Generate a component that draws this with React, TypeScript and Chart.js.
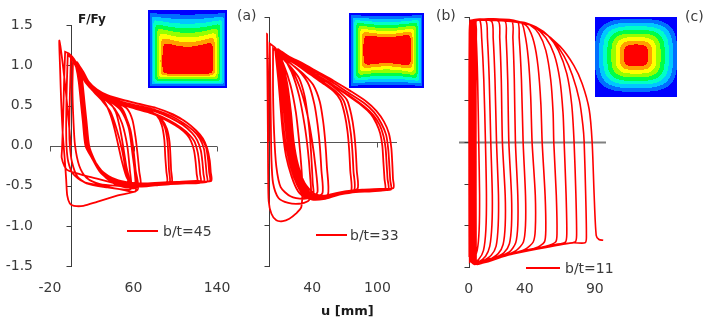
import React, { useEffect, useRef } from "react";
import { Chart, registerables } from "chart.js";

Chart.register(...registerables);

const FONT = '"DejaVu Sans", sans-serif';
const TEXT = "#3a3a3a";
const RED = "#ff0000";

// ---- tick values / labels ----
const yTickValues = [-1.5, -1, -0.5, 0, 0.5, 1, 1.5];
const xTicksA = [-20, 60, 140];
const xTicksB = [40, 100];
const xTicksC = [0, 40, 90];
const seriesLabels = ["b/t=45", "b/t=33", "b/t=11"];
const panelTags = ["(a)", "(b)", "(c)"];
const yTitle = "F/Fy";
const xTitle = "u [mm]";

const bt45Loops: number[][] = [
  [0, 0, -5, 0.7, -11, 1.31, -10.3, 0.95, -9.3, 0.55, -7.8, 0.15, -6, -0.15, -4.5, -0.42, -3.5, -0.62, -1, -0.72, 3, -0.75, 12, -0.75, 25, -0.7, 45, -0.62, 64, -0.55, 62, -0.3, 60, -0.05, 57, 0.2, 50, 0.42, 40, 0.54, 30, 0.61, 20, 0.73, 13, 0.85, 8, 0.96, 3, 1.08, -2, 1.15, -5.5, 1.17],
  [-5.5, 1.17, -6.5, 0.8, -7.5, 0.3, -8.5, -0.05, -8.8, -0.15, -6, -0.26, -2.5, -0.31, 10, -0.36, 25, -0.41, 45, -0.48, 61, -0.53, 61, -0.3, 59.5, 0, 56, 0.22, 50, 0.42, 40, 0.54, 30, 0.62, 20, 0.74, 13, 0.86, 6, 1.0, 0, 1.1, -3, 1.13],
  [-3, 1.13, -4, 0.7, -4.5, 0.3, -4.2, 0, -2.5, -0.2, 2, -0.35, 12, -0.45, 30, -0.5, 50, -0.55, 62, -0.57, 61, -0.3, 58.5, 0, 55, 0.24, 48, 0.44, 38, 0.55, 28, 0.63, 18, 0.75, 11, 0.88, 4, 1.03, 0, 1.08],
  [0, 1.08, -1, 0.6, -1.5, 0.2, -1, 0, 1, -0.2, 6, -0.38, 15, -0.47, 35, -0.52, 55, -0.55, 58, -0.53, 56.5, -0.3, 54, 0, 49, 0.28, 42, 0.46, 33, 0.57, 22, 0.68, 14, 0.81, 7, 0.96, 2, 1.05],
  [2, 1.05, 1.5, 0.7, 2.5, 0.3, 4, 0, 8, -0.25, 15, -0.4, 28, -0.48, 45, -0.5, 55, -0.5, 52.5, -0.3, 49, -0.05, 44, 0.2, 38, 0.42, 30, 0.56, 22, 0.67, 15, 0.79, 8, 0.94, 4, 1.02],
  [3.5, 1.04, 8.5, 0.93, 13.5, 0.81, 20, 0.7, 27, 0.62, 33, 0.53, 38, 0.38, 42, 0.2, 45.5, 0, 49, -0.2, 53, -0.38, 57, -0.5, 46, -0.5, 37, -0.43, 27.5, -0.32, 20, -0.15, 14.5, 0, 12, 0.3, 10, 0.55, 8, 0.8, 5.5, 0.98, 3.5, 1.04],
  [3, 1.04, 8, 0.93, 13, 0.81, 20, 0.7, 28, 0.62, 37, 0.54, 43, 0.42, 47, 0.22, 50, 0, 53, -0.25, 56, -0.47, 47, -0.48, 38, -0.42, 28, -0.32, 20, -0.15, 14, 0, 11.5, 0.3, 9.5, 0.55, 7.5, 0.8, 5, 0.98, 3, 1.04],
  [4, 1.04, 9, 0.93, 14, 0.81, 21, 0.7, 30, 0.62, 40, 0.55, 48, 0.48, 53, 0.35, 56.5, 0.15, 59, -0.1, 61, -0.3, 62.5, -0.5, 50, -0.5, 38, -0.43, 28, -0.32, 20.5, -0.15, 15, 0, 12.5, 0.3, 10.5, 0.55, 8.5, 0.8, 6, 0.98, 4, 1.04],
  [5, 1.03, 10, 0.92, 15, 0.8, 22, 0.69, 32, 0.61, 45, 0.53, 54, 0.46, 59, 0.32, 62, 0.1, 64, -0.12, 65.5, -0.32, 66.5, -0.5, 52, -0.52, 40, -0.46, 29, -0.34, 21, -0.16, 16, 0, 13.5, 0.3, 11.5, 0.55, 9.5, 0.8, 7, 0.98, 5, 1.03],
  [6, 1.04, 11, 0.93, 16, 0.81, 24, 0.7, 34, 0.62, 48, 0.55, 62, 0.49, 74, 0.44, 82, 0.38, 87, 0.26, 89.5, 0.08, 90.5, -0.15, 91.5, -0.32, 92, -0.46, 80, -0.47, 65, -0.49, 50, -0.47, 38, -0.42, 28, -0.31, 21.5, -0.15, 17, 0, 14.5, 0.3, 12.5, 0.55, 10.5, 0.8, 8, 0.98, 6, 1.04],
  [4.5, 1.03, 10, 0.91, 15, 0.79, 23, 0.68, 33, 0.6, 47, 0.53, 63, 0.47, 76, 0.42, 85, 0.35, 90, 0.23, 92.5, 0.06, 93.5, -0.15, 94, -0.3, 94.5, -0.47, 82, -0.48, 67, -0.5, 52, -0.48, 39, -0.43, 29, -0.32, 21, -0.15, 15.5, 0, 13, 0.3, 11, 0.55, 9, 0.8, 6.5, 0.98, 4.5, 1.03],
  [5.5, 1.02, 11, 0.9, 16, 0.78, 24, 0.67, 35, 0.59, 50, 0.52, 65, 0.46, 78, 0.41, 87, 0.33, 92, 0.21, 94.5, 0.05, 95.5, -0.15, 96, -0.3, 96.5, -0.47, 84, -0.49, 68, -0.51, 54, -0.49, 41, -0.44, 30, -0.33, 21.5, -0.16, 16.5, 0, 14, 0.3, 12, 0.55, 10, 0.8, 7.5, 0.98, 5.5, 1.02],
  [3.5, 1.03, 9, 0.91, 14, 0.79, 22, 0.68, 32, 0.6, 46, 0.52, 62, 0.46, 78, 0.4, 94, 0.3, 104, 0.22, 111, 0.14, 115, 0.06, 118, -0.06, 119.5, -0.2, 120.5, -0.35, 121, -0.45, 110, -0.45, 95, -0.46, 80, -0.47, 65, -0.48, 52, -0.46, 39, -0.41, 28, -0.31, 20, -0.15, 14.5, 0, 12, 0.3, 10, 0.55, 8, 0.8, 5.5, 0.98, 3.5, 1.03],
  [6.5, 1.02, 12, 0.9, 17, 0.78, 25, 0.67, 35, 0.59, 50, 0.52, 64, 0.46, 80, 0.4, 95, 0.31, 106, 0.22, 114, 0.13, 118.5, 0.05, 121.5, -0.08, 123, -0.22, 123.8, -0.35, 124.3, -0.46, 110, -0.47, 95, -0.48, 80, -0.49, 64, -0.5, 51, -0.47, 39, -0.42, 29, -0.32, 22, -0.16, 17.5, 0, 15, 0.3, 13, 0.55, 11, 0.8, 8.5, 0.98, 6.5, 1.02],
  [5, 1.03, 11, 0.92, 16, 0.8, 24, 0.69, 34, 0.61, 49, 0.54, 65, 0.48, 80, 0.43, 95, 0.35, 107, 0.26, 116, 0.16, 121, 0.07, 124.5, -0.06, 126, -0.2, 127, -0.35, 127.5, -0.45, 112, -0.46, 96, -0.47, 80, -0.48, 64, -0.49, 51, -0.47, 39, -0.42, 29, -0.32, 21, -0.16, 16, 0, 13.5, 0.3, 11.5, 0.55, 9.5, 0.8, 7, 0.98, 5, 1.03],
  [4, 1.03, 10, 0.91, 15, 0.8, 23, 0.69, 33, 0.62, 48, 0.55, 64, 0.5, 80, 0.45, 96, 0.37, 108, 0.28, 117, 0.19, 123.5, 0.09, 127.5, -0.04, 129, -0.2, 130, -0.35, 130.5, -0.45, 115, -0.46, 98, -0.47, 82, -0.48, 66, -0.49, 52, -0.47, 40, -0.42, 29, -0.32, 20.5, -0.15, 15, 0, 12.5, 0.3, 10.5, 0.55, 8.5, 0.8, 6, 0.98, 4, 1.03],
  [6, 1.03, 12, 0.92, 17, 0.8, 25, 0.7, 35, 0.63, 50, 0.57, 66, 0.52, 82, 0.47, 97, 0.39, 110, 0.3, 119, 0.2, 125, 0.1, 129.5, -0.02, 131.5, -0.18, 132.5, -0.33, 133, -0.44, 118, -0.45, 100, -0.46, 84, -0.47, 68, -0.48, 54, -0.46, 41, -0.42, 30, -0.33, 21.5, -0.16, 17, 0, 14.5, 0.3, 12.5, 0.55, 10.5, 0.8, 8, 0.98, 6, 1.03],
  [5, 1.03, 11, 0.91, 16, 0.8, 24, 0.7, 34, 0.63, 49, 0.57, 65, 0.52, 82, 0.47, 98, 0.39, 111, 0.29, 120, 0.19, 126.5, 0.09, 130.5, -0.03, 133, -0.18, 134, -0.33, 134.5, -0.44, 120, -0.44, 102, -0.45, 85, -0.46, 70, -0.47, 56, -0.46, 43, -0.42, 31, -0.33, 22, -0.17, 16, 0, 13.5, 0.3, 11.5, 0.55, 9.5, 0.8, 7, 0.98, 5, 1.03],
];

const bt33Loops: number[][] = [
  [0, 0, -0.5, 0.8, -1.5, 1.3, -1.2, 0.8, -0.8, 0.2, -0.5, -0.4, 0, -0.72, 2.5, -0.87, 7, -0.95, 13, -0.96, 19, -0.93, 25, -0.87, 30, -0.79, 31, -0.55, 30, -0.3, 28, 0, 25, 0.35, 20, 0.68, 13, 0.95, 6, 1.13, 1, 1.18],
  [1, 1.18, 1.5, 0.7, 2, 0.2, 2.5, -0.2, 4, -0.5, 9, -0.68, 18, -0.74, 28, -0.75, 36, -0.72, 39, -0.66, 38, -0.4, 36, -0.1, 33, 0.2, 28, 0.55, 21, 0.84, 13, 1.02, 4, 1.12],
  [4, 1.12, 4, 0.6, 5, 0.1, 7, -0.3, 11, -0.55, 20, -0.66, 32, -0.69, 42, -0.66, 45, -0.6, 43, -0.3, 40, 0, 36, 0.3, 30, 0.6, 22, 0.85, 12, 1.03, 6, 1.1],
  [6, 1.1, 13, 1.0, 20, 0.9, 28, 0.76, 33, 0.55, 36, 0.3, 38, 0.05, 39.5, -0.25, 40.5, -0.5, 41, -0.65, 34, -0.68, 27, -0.6, 21, -0.42, 16, -0.18, 13, 0.1, 11, 0.4, 9, 0.72, 6, 1.1],
  [6, 1.1, 14, 1.0, 22, 0.92, 30, 0.82, 37, 0.68, 42, 0.45, 45, 0.2, 47, -0.05, 48.5, -0.35, 49.5, -0.62, 42, -0.68, 33, -0.66, 26, -0.52, 20, -0.3, 16, -0.05, 13, 0.25, 11, 0.55, 9, 0.85, 6, 1.1],
  [7, 1.09, 15, 0.99, 24, 0.9, 33, 0.8, 41, 0.68, 47, 0.48, 50, 0.25, 52, 0, 53.5, -0.3, 54.5, -0.64, 45, -0.69, 36, -0.67, 28, -0.55, 22, -0.34, 18, -0.08, 15, 0.22, 12.5, 0.55, 10, 0.85, 7, 1.09],
  [7, 1.1, 15, 1.01, 25, 0.93, 38, 0.81, 50, 0.7, 60, 0.6, 66, 0.5, 70, 0.32, 72.5, 0.12, 74, -0.1, 75, -0.35, 75.8, -0.6, 65, -0.64, 52, -0.69, 40, -0.7, 31, -0.62, 25, -0.45, 20.5, -0.2, 17, 0.08, 14.5, 0.4, 12, 0.72, 7, 1.1],
  [8, 1.09, 16, 1.0, 26, 0.93, 40, 0.8, 52, 0.7, 62, 0.6, 69, 0.49, 73, 0.3, 75.5, 0.1, 77, -0.12, 78, -0.36, 78.7, -0.58, 67, -0.62, 54, -0.67, 42, -0.69, 33, -0.62, 26.5, -0.45, 22, -0.2, 18.5, 0.08, 16, 0.4, 13, 0.72, 8, 1.09],
  [8, 1.1, 16, 1.01, 27, 0.94, 41, 0.81, 54, 0.71, 64, 0.61, 72, 0.5, 76, 0.32, 78.5, 0.12, 80, -0.1, 81, -0.35, 81.7, -0.57, 70, -0.6, 56, -0.64, 44, -0.67, 35, -0.62, 28, -0.46, 23, -0.22, 19.5, 0.06, 17, 0.4, 14, 0.72, 8, 1.1],
  [8, 1.11, 17, 1.02, 27, 0.95, 42, 0.82, 56, 0.71, 70, 0.58, 85, 0.44, 94, 0.33, 99, 0.22, 102.5, 0.1, 104.5, -0.05, 105.5, -0.25, 106.5, -0.45, 107, -0.58, 95, -0.6, 80, -0.61, 65, -0.64, 50, -0.68, 38, -0.66, 30, -0.52, 24.5, -0.3, 20.5, -0.02, 18, 0.33, 15, 0.68, 8, 1.11],
  [9, 1.1, 18, 1.01, 28, 0.94, 43, 0.81, 57, 0.7, 72, 0.57, 87, 0.43, 96, 0.32, 102, 0.2, 105.5, 0.07, 107.5, -0.08, 108.5, -0.28, 109.3, -0.45, 110, -0.58, 97, -0.59, 82, -0.6, 66, -0.63, 51, -0.66, 39, -0.64, 31, -0.5, 25.5, -0.28, 21.5, 0, 19, 0.35, 16, 0.7, 9, 1.1],
  [9, 1.11, 18, 1.02, 29, 0.95, 44, 0.83, 58, 0.72, 73, 0.59, 88, 0.46, 97, 0.35, 103.5, 0.22, 108, 0.08, 110, -0.1, 111, -0.3, 111.8, -0.47, 112.5, -0.58, 100, -0.58, 84, -0.59, 68, -0.62, 52, -0.66, 40, -0.64, 32, -0.5, 26, -0.27, 22, 0.02, 19.5, 0.36, 16.5, 0.7, 9, 1.11],
  [10, 1.1, 19, 1.02, 30, 0.95, 45, 0.84, 60, 0.73, 75, 0.61, 90, 0.48, 99, 0.37, 106, 0.24, 110.5, 0.1, 112.8, -0.08, 113.8, -0.3, 114.3, -0.45, 114.7, -0.56, 102, -0.57, 86, -0.58, 70, -0.61, 54, -0.65, 42, -0.63, 33, -0.5, 27, -0.28, 23, 0, 20.5, 0.35, 17, 0.7, 10, 1.1],
];

const bt11Loops: number[][] = [
  [0.3, -1.38, 0.2, -0.5, 0.2, 0.5, 0.4, 1.3, 1, 1.46, 1.8, 1.45, 2.3, 0.6, 2.5, 0, 2.6, -0.64, 2.3, -1.1, 1.5, -1.35, 0.6, -1.4],
  [0.6, -1.4, 0.4, -0.6, 0.4, 0.6, 0.7, 1.35, 1.4, 1.46, 2.8, 1.46, 3.5, 0.7, 4, 0, 4.3, -0.64, 4, -1.1, 3, -1.35, 1, -1.42],
  [1, -1.42, 0.7, -0.6, 0.8, 0.6, 1.1, 1.35, 2, 1.46, 4.3, 1.46, 5.3, 1.25, 6.3, 0.75, 7.1, 0, 7.7, -0.64, 7.4, -1.05, 6, -1.3, 3, -1.43, 1.2, -1.43],
  [1.3, -1.43, 1.1, -0.6, 1.1, 0.6, 1.4, 1.35, 2.3, 1.46, 7.9, 1.46, 9.2, 1.25, 10.7, 0.75, 11.9, 0, 12.6, -0.64, 12.2, -1.05, 10.5, -1.3, 7, -1.41, 3, -1.45, 1.6, -1.44],
  [1.6, -1.44, 1.5, -0.6, 1.5, 0.6, 1.8, 1.35, 2.7, 1.46, 12.1, 1.46, 13.3, 1.25, 14.6, 0.75, 15.7, 0, 16.8, -0.64, 16.5, -1.0, 15, -1.25, 12, -1.37, 7, -1.44, 3, -1.46, 1.9, -1.44],
  [1.9, -1.44, 1.8, -0.6, 1.8, 0.6, 2.1, 1.35, 3, 1.46, 16.2, 1.45, 17.4, 1.25, 18.7, 0.75, 19.8, 0, 21.2, -0.64, 21, -1.0, 19.5, -1.25, 16, -1.36, 10, -1.43, 4, -1.47, 2.2, -1.44],
  [2.2, -1.44, 2.1, -0.6, 2.1, 0.6, 2.4, 1.35, 3.3, 1.46, 21, 1.45, 22.1, 1.25, 23.2, 0.75, 24, 0, 26, -0.64, 26, -1.0, 24.5, -1.23, 21, -1.34, 14, -1.42, 6, -1.47, 2.5, -1.44],
  [2.5, -1.44, 2.4, -0.6, 2.4, 0.6, 2.7, 1.35, 3.6, 1.46, 25.7, 1.45, 26.7, 1.25, 27.8, 0.75, 28.6, 0, 30.5, -0.64, 30.5, -1.0, 29, -1.22, 25, -1.33, 16, -1.41, 6, -1.47, 2.8, -1.44],
  [2.8, -1.44, 2.7, -0.6, 2.7, 0.6, 3, 1.35, 3.9, 1.46, 30.5, 1.45, 31.5, 1.25, 32.5, 0.75, 33.3, 0, 35, -0.64, 35, -1.0, 33.5, -1.21, 29, -1.32, 18, -1.4, 7, -1.46, 3.1, -1.44],
  [3.1, -1.44, 3, -0.6, 3, 0.6, 3.3, 1.35, 4.2, 1.46, 34.5, 1.45, 36, 1.25, 37.6, 0.75, 38.8, 0, 40.5, -0.64, 40.5, -1.0, 39, -1.2, 34, -1.3, 22, -1.39, 8, -1.46, 3.4, -1.44],
  [3.4, -1.44, 3.3, -0.6, 3.3, 0.6, 3.6, 1.35, 4.5, 1.46, 37, 1.44, 40, 1.3, 42.5, 1.0, 44.2, 0.55, 45.2, 0, 47.5, -0.64, 47.5, -1.05, 46, -1.2, 40, -1.29, 25, -1.37, 9, -1.45, 3.7, -1.44],
  [3.7, -1.44, 3.6, -0.6, 3.6, 0.6, 3.9, 1.35, 4.8, 1.46, 36, 1.44, 42, 1.38, 46.5, 1.2, 49.5, 0.9, 51.5, 0.45, 52.4, 0, 54.5, -0.64, 55, -1.05, 54, -1.2, 48, -1.27, 30, -1.35, 10, -1.44, 4, -1.44],
  [4, -1.44, 3.9, -0.6, 3.9, 0.6, 4.2, 1.35, 5, 1.46, 36, 1.44, 44, 1.4, 50, 1.3, 55, 1.1, 58.5, 0.75, 60.2, 0.35, 60.7, 0, 62.5, -0.64, 63, -1.1, 62, -1.2, 55, -1.25, 35, -1.32, 12, -1.43, 4.3, -1.44],
  [4.3, -1.44, 4.2, -0.6, 4.2, 0.6, 4.5, 1.35, 5.2, 1.46, 37, 1.44, 47, 1.38, 55, 1.25, 61, 1.05, 65, 0.75, 67.3, 0.35, 68.1, 0, 69.5, -0.64, 70, -1.1, 69, -1.2, 62, -1.23, 40, -1.3, 14, -1.41, 4.6, -1.44],
  [4.6, -1.44, 4.5, -0.6, 4.5, 0.6, 4.8, 1.35, 5.4, 1.46, 37.5, 1.44, 48, 1.38, 57, 1.27, 64, 1.1, 70, 0.82, 73.5, 0.45, 75.2, 0, 76.5, -0.64, 77, -1.12, 76, -1.2, 68, -1.22, 45, -1.29, 16, -1.4, 4.9, -1.44],
  [4.9, -1.44, 4.8, -0.6, 4.8, 0.6, 5.1, 1.35, 5.6, 1.46, 38, 1.43, 50, 1.36, 60, 1.22, 68, 1.03, 74, 0.8, 79, 0.5, 81.5, 0.2, 82.4, 0, 83.5, -0.64, 84, -1.15, 83, -1.21, 74, -1.21, 50, -1.28, 18, -1.39, 5.2, -1.44],
  [5.2, -1.44, 5.1, -0.6, 5.1, 0.6, 5.4, 1.35, 5.8, 1.46, 38, 1.43, 52, 1.33, 65, 1.15, 75, 0.92, 81, 0.7, 86, 0.39, 88.1, 0, 89.5, -0.62, 91, -1.12, 93, -1.17, 96, -1.18],
];

// contour colour bands of the insets (outer -> inner)
const bandColors: number[][] = [
  [0, 0, 255], [0, 110, 255], [0, 200, 255], [0, 255, 200], [0, 255, 70],
  [150, 255, 0], [255, 255, 0], [255, 160, 0], [255, 0, 0],
];

type Inset = { x: number; y: number; w: number; h: number; kind: string };
type Legend = { x1: number; x2: number; y: number; tx: number };
type PanelCfg = {
  label: string;
  loops: number[][];
  xMin: number;
  xMax: number;
  xTicks: number[];
  xTickMarks: number[];
  showY: boolean;
  padding: { left: number; right: number; top: number; bottom: number };
  xAxisColor: string;
  xAxisWidth: number;
  lineWidth: number;
  inset: Inset;
  legend: Legend;
};

function toPoints(loops: number[][]) {
  const pts: { x: number; y: number }[] = [];
  for (const l of loops) for (let i = 0; i + 1 < l.length; i += 2) pts.push({ x: l[i], y: l[i + 1] });
  return pts;
}

function insetLevel(kind: string, s: number, t: number): number {
  let v: number;
  if (kind === "c") {
    const x = Math.abs((s - 0.5) / 0.5);
    const y = Math.abs(((t - 0.48) / 0.5) * 1.1);
    const p = 3.4;
    const r = Math.pow(Math.pow(x, p) + Math.pow(y, p), 1 / p);
    v = (1.1 - r) / 0.8;
  } else {
    const bump = Math.sin(Math.PI * s);
    const d =
      kind === "a"
        ? [s / 0.18, (1 - s) / 0.17, (1 - t) / 0.18, t / (0.3 + 0.17 * bump)]
        : [s / 0.19, (1 - s) / 0.17, t / (0.22 + 0.1 * bump), (1 - t) / (0.23 + 0.1 * bump)];
    let sum = 0;
    for (const di of d) sum += Math.pow(Math.max(di, 1e-6), -6);
    v = Math.pow(sum, -1 / 6);
  }
  if (v >= 1) return 8;
  return Math.max(0, Math.min(7, Math.floor(v * 8)));
}

function makeDeco(cfg: PanelCfg) {
  return {
    id: "deco",
    beforeDatasetsDraw(chart: any) {
      const { ctx, chartArea } = chart;
      const xs = chart.scales.x;
      const ys = chart.scales.y;
      const yz = Math.round(ys.getPixelForValue(0)) + 0.5;
      const x0 = Math.round(xs.getPixelForValue(0)) + 0.5;
      ctx.save();
      // horizontal axis line through F = 0
      ctx.strokeStyle = cfg.xAxisColor;
      ctx.lineWidth = cfg.xAxisWidth;
      ctx.beginPath();
      ctx.moveTo(chartArea.left, yz);
      ctx.lineTo(chartArea.right, yz);
      for (const v of cfg.xTickMarks) {
        const px = Math.round(xs.getPixelForValue(v)) + 0.5;
        ctx.moveTo(px, yz);
        ctx.lineTo(px, yz + 5);
      }
      ctx.stroke();
      // vertical axis through u = 0
      ctx.strokeStyle = "#3c3c3c";
      ctx.lineWidth = 1;
      ctx.beginPath();
      ctx.moveTo(x0, Math.round(ys.getPixelForValue(1.5)));
      ctx.lineTo(x0, Math.round(ys.getPixelForValue(-1.5)) + 1);
      for (const v of yTickValues) {
        const py = Math.round(ys.getPixelForValue(v)) + 0.5;
        ctx.moveTo(x0 - 5, py);
        ctx.lineTo(x0, py);
      }
      ctx.stroke();
      ctx.restore();
    },
    afterDraw(chart: any) {
      const { ctx } = chart;
      const ins = cfg.inset;
      const img = ctx.createImageData(ins.w, ins.h);
      for (let j = 0; j < ins.h; j++) {
        for (let i = 0; i < ins.w; i++) {
          const lv = insetLevel(ins.kind, (i + 0.5) / ins.w, (j + 0.5) / ins.h);
          const c = bandColors[lv];
          const k = (j * ins.w + i) * 4;
          img.data[k] = c[0];
          img.data[k + 1] = c[1];
          img.data[k + 2] = c[2];
          img.data[k + 3] = 255;
        }
      }
      ctx.putImageData(img, ins.x, ins.y);
      // legend
      const ds = chart.data.datasets[0];
      const lg = cfg.legend;
      ctx.save();
      ctx.strokeStyle = ds.borderColor;
      ctx.lineWidth = 2;
      ctx.beginPath();
      ctx.moveTo(lg.x1, lg.y);
      ctx.lineTo(lg.x2, lg.y);
      ctx.stroke();
      ctx.fillStyle = TEXT;
      ctx.font = `14px ${FONT}`;
      ctx.textBaseline = "alphabetic";
      ctx.textAlign = "left";
      ctx.fillText(ds.label, lg.tx, lg.y + 5);
      ctx.restore();
    },
  };
}

const panels: PanelCfg[] = [
  {
    label: seriesLabels[0],
    loops: bt45Loops,
    xMin: -20,
    xMax: 140,
    xTicks: xTicksA,
    xTickMarks: xTicksA,
    showY: true,
    padding: { left: 0, right: 491, top: 17, bottom: 28 },
    xAxisColor: "#555555",
    xAxisWidth: 1,
    lineWidth: 1.8,
    inset: { x: 148, y: 10, w: 79, h: 78, kind: "a" },
    legend: { x1: 127, x2: 158, y: 231, tx: 163 },
  },
  {
    label: seriesLabels[1],
    loops: bt33Loops,
    xMin: -8,
    xMax: 118,
    xTicks: xTicksB,
    xTickMarks: xTicksB,
    showY: false,
    padding: { left: 260, right: 311, top: 17, bottom: 28 },
    xAxisColor: "#555555",
    xAxisWidth: 1,
    lineWidth: 1.8,
    inset: { x: 349, y: 13, w: 75, h: 75, kind: "b" },
    legend: { x1: 316, x2: 347, y: 235, tx: 350 },
  },
  {
    label: seriesLabels[2],
    loops: bt11Loops,
    xMin: -7,
    xMax: 98,
    xTicks: xTicksC,
    xTickMarks: [],
    showY: false,
    padding: { left: 459, right: 102, top: 17, bottom: 27 },
    xAxisColor: "#808080",
    xAxisWidth: 2,
    lineWidth: 1.6,
    inset: { x: 595, y: 17, w: 82, h: 80, kind: "c" },
    legend: { x1: 526, x2: 560, y: 268, tx: 565 },
  },
];

function Panel({ cfg }: { cfg: PanelCfg }) {
  const ref = useRef<HTMLCanvasElement | null>(null);
  useEffect(() => {
    if (!ref.current) return;
    const chart = new Chart(ref.current, {
      type: "scatter",
      data: {
        datasets: [
          {
            label: cfg.label,
            data: toPoints(cfg.loops),
            showLine: true,
            borderColor: RED,
            backgroundColor: RED,
            borderWidth: cfg.lineWidth,
            pointRadius: 0,
            pointHoverRadius: 0,
            tension: 0.25,
            fill: false,
          } as any,
        ],
      },
      options: {
        responsive: false,
        animation: false,
        devicePixelRatio: 1,
        events: [],
        layout: { padding: cfg.padding },
        plugins: { legend: { display: false }, tooltip: { enabled: false } },
        scales: {
          x: {
            type: "linear",
            position: "bottom",
            min: cfg.xMin,
            max: cfg.xMax,
            afterBuildTicks: (s: any) => {
              s.ticks = cfg.xTicks.map((v) => ({ value: v }));
            },
            afterFit: (s: any) => {
              s.height = 30;
            },
            grid: { display: false, drawTicks: false },
            border: { display: false },
            ticks: {
              padding: 14,
              autoSkip: false,
              maxRotation: 0,
              color: TEXT,
              font: { family: FONT, size: 14 },
              callback: (v: any) => String(v),
            },
          },
          y: {
            type: "linear",
            position: "left",
            display: cfg.showY,
            min: -1.5,
            max: 1.5,
            afterBuildTicks: (s: any) => {
              s.ticks = yTickValues.map((v) => ({ value: v }));
            },
            afterFit: (s: any) => {
              s.width = cfg.showY ? 50 : 0;
            },
            grid: { display: false, drawTicks: false },
            border: { display: false },
            ticks: {
              padding: 17,
              color: TEXT,
              font: { family: FONT, size: 14 },
              callback: (v: any) => Number(v).toFixed(1),
            },
          },
        },
      } as any,
      plugins: [makeDeco(cfg) as any],
    });
    return () => chart.destroy();
  }, [cfg]);
  return (
    <canvas
      ref={ref}
      width={708}
      height={324}
      style={{ position: "absolute", left: 0, top: 0, width: 708, height: 324 }}
    />
  );
}

function Label({ text, left, top, size, bold }: { text: string; left: number; top: number; size: number; bold?: boolean }) {
  return (
    <span
      style={{
        position: "absolute",
        left,
        top,
        fontFamily: FONT,
        fontSize: size,
        lineHeight: 1,
        fontWeight: bold ? "bold" : "normal",
        color: bold ? "#1a1a1a" : TEXT,
        whiteSpace: "nowrap",
      }}
    >
      {text}
    </span>
  );
}

export default function App() {
  return (
    <div
      style={{
        position: "fixed",
        left: 0,
        top: 0,
        width: 708,
        height: 324,
        background: "#ffffff",
        overflow: "hidden",
      }}
    >
      {panels.map((p, i) => (
        <Panel key={i} cfg={p} />
      ))}
      <Label text={yTitle} left={78} top={13} size={12} bold />
      <Label text={xTitle} left={321} top={304} size={13} bold />
      <Label text={panelTags[0]} left={237} top={8} size={14} />
      <Label text={panelTags[1]} left={436} top={8} size={14} />
      <Label text={panelTags[2]} left={685} top={9} size={14} />
    </div>
  );
}
